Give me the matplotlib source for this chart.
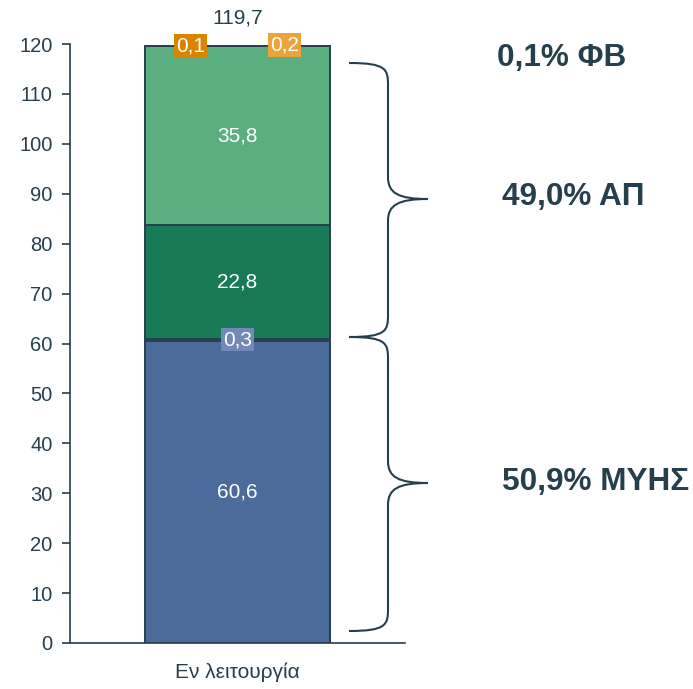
import matplotlib
matplotlib.use("Agg")
import matplotlib.pyplot as plt
from matplotlib.path import Path
from matplotlib.patches import PathPatch

plt.rcParams['font.family'] = ['Liberation Sans', 'DejaVu Sans']

category = ["Εν λειτουργία"]
seg_values = [60.6, 0.3, 22.8, 35.8, 0.1, 0.2]
seg_colors = ["#4d6b9a", "#7189b8", "#187a56", "#5aae80", "#d98400", "#eba43a"]
total_label = "119,7"
group_labels = ["0,1% ΦΒ", "49,0% ΑΠ", "50,9% ΜΥΗΣ"]
yticks = list(range(0, 121, 10))

dark = "#263f4c"
W, H = 693, 689
fig = plt.figure(figsize=(W / 100, H / 100), dpi=100)
ax = fig.add_axes([70 / W, (H - 643) / H, (405 - 70) / W, (643 - 44) / H])

bw = 0.552
small = {1, 4, 5}
bottom = 0.0
for i, (v, c) in enumerate(zip(seg_values, seg_colors)):
    if i in small:
        ax.bar(0, v, bottom=bottom, width=bw, color=c, linewidth=0, zorder=1)
    else:
        ax.bar(0, v, bottom=bottom, width=bw, color=c, edgecolor=dark, linewidth=1.4, zorder=2)
    bottom += v

def fmt(v):
    return f"{v:.1f}".replace(".", ",")

cum = [0]
for v in seg_values:
    cum.append(cum[-1] + v)
for i in [0, 2, 3]:
    ax.text(0, (cum[i] + cum[i + 1]) / 2, fmt(seg_values[i]), ha="center", va="center",
            color="white", fontsize=15, zorder=4)
small_x = {1: 0.0, 4: -0.14, 5: 0.14}
for i, xx in small_x.items():
    yy = (cum[i] + cum[i + 1]) / 2 if i == 1 else cum[i + 1]
    ax.text(xx, yy, fmt(seg_values[i]), ha="center", va="center", color="white",
            fontsize=15, zorder=5,
            bbox=dict(boxstyle="square,pad=0.1", fc=seg_colors[i], ec="none"))
ax.text(0, cum[-1] + 3.6, total_label, ha="center", va="bottom", color=dark, fontsize=15)

ax.set_xlim(-0.5, 0.5)
ax.set_ylim(0, 120)
ax.set_yticks(yticks)
ax.set_xticks([0])
ax.set_xticklabels(category)
ax.tick_params(axis="x", length=0, pad=14, labelsize=15, labelcolor=dark)
ax.tick_params(axis="y", length=5.5, width=1.2, color=dark, labelsize=14.5, labelcolor=dark, pad=7)
for s in ["top", "right"]:
    ax.spines[s].set_visible(False)
for s in ["left", "bottom"]:
    ax.spines[s].set_color(dark)
    ax.spines[s].set_linewidth(1.2)

ov = fig.add_axes([0, 0, 1, 1], facecolor="none")
ov.set_xlim(0, W)
ov.set_ylim(H, 0)
ov.axis("off")

def brace(x0, xv, xt, ytop, ytip, ybot, r=22):
    verts = [
        (x0, ytop),
        (xv - 2, ytop), (xv, ytop + 6), (xv, ytop + r),
        (xv, ytip - r),
        (xv, ytip - 6), (xv + 10, ytip), (xt, ytip),
        (xv + 10, ytip), (xv, ytip + 6), (xv, ytip + r),
        (xv, ybot - r),
        (xv, ybot - 6), (xv - 2, ybot), (x0, ybot),
    ]
    codes = [Path.MOVETO,
             Path.CURVE4, Path.CURVE4, Path.CURVE4,
             Path.LINETO,
             Path.CURVE4, Path.CURVE4, Path.CURVE4,
             Path.CURVE4, Path.CURVE4, Path.CURVE4,
             Path.LINETO,
             Path.CURVE4, Path.CURVE4, Path.CURVE4]
    ov.add_patch(PathPatch(Path(verts, codes), fc="none", ec=dark, lw=1.5))

brace(349, 388, 428, 63, 199, 337)
brace(349, 388, 428, 337, 483, 631)

ov.text(497, 58, group_labels[0], ha="left", va="center", fontsize=22.7, fontweight="bold", color=dark)
ov.text(502, 197, group_labels[1], ha="left", va="center", fontsize=22.7, fontweight="bold", color=dark)
ov.text(502, 482, group_labels[2], ha="left", va="center", fontsize=22.7, fontweight="bold", color=dark)

fig.savefig("out.png", dpi=100)
